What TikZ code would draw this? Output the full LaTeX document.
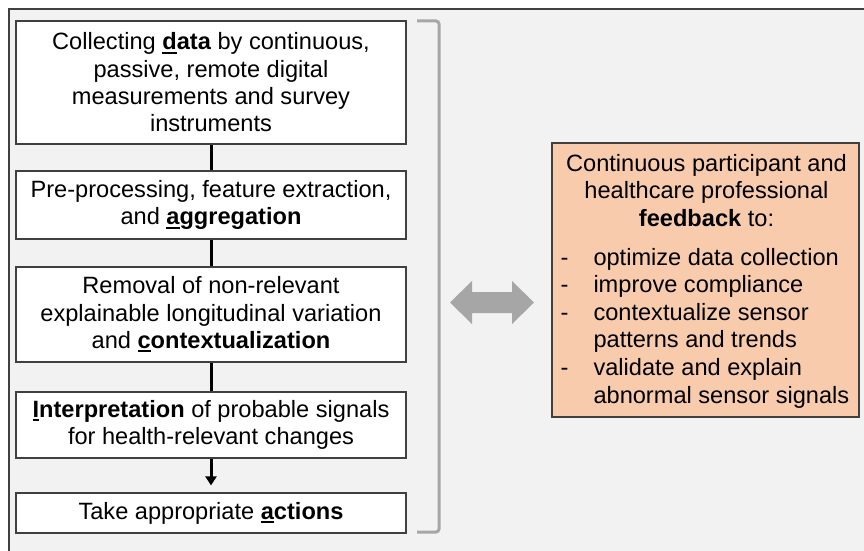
\documentclass[tikz,border=0pt]{standalone}
\usepackage{fontspec}
\setmainfont{Liberation Sans}
\usetikzlibrary{arrows.meta}

% bold letter with a thick underline beneath it
\newcommand{\keyletter}[1]{\setbox0\hbox{#1}\rlap{\rule[-3.8pt]{\wd0}{2pt}}\box0}

\definecolor{panelgray}{HTML}{F2F2F2}
\definecolor{edgegray}{HTML}{404040}
\definecolor{bracegray}{HTML}{A6A6A6}
\definecolor{feedbackfill}{HTML}{F8CBAD}

\tikzset{
  panel/.style={draw=edgegray, line width=1.4pt, fill=panelgray},
  stepbox/.style={draw=edgegray, line width=1.2pt, fill=white, align=center,
    minimum width=390pt, inner sep=0pt,
    font=\fontsize{23.6}{27.3}\selectfont},
  feedbox/.style={draw=edgegray, line width=1.2pt, fill=feedbackfill,
    minimum width=307pt, minimum height=274pt, inner sep=0pt},
  link/.style={line width=3pt, black},
  brace/.style={draw=bracegray, line width=3pt, rounded corners=3pt},
  twoway/.style={fill=bracegray, draw=none}
}

\begin{document}
\begin{tikzpicture}[x=1pt, y=-1pt]
  \useasboundingbox (0,0) rectangle (864,551);
  \clip (0,0) rectangle (864,551);

  % background panel, running off the right and bottom edges
  \draw[panel] (9,9) rectangle (880,570);

  % pipeline steps
  \node[stepbox, minimum height=123pt] (collect) at (211,82.5)
    {Collecting \textbf{\keyletter{d}ata} by continuous,\\
     passive, remote digital\\
     measurements and survey\\
     instruments};
  \node[stepbox, minimum height=68pt] (aggregate) at (211,205)
    {Pre-processing, feature extraction,\\
     and \textbf{\keyletter{a}ggregation}};
  \node[stepbox, minimum height=95pt] (context) at (211,314.5)
    {Removal of non-relevant\\
     explainable longitudinal variation\\
     and \textbf{\keyletter{c}ontextualization}};
  \node[stepbox, minimum height=66pt] (interpret) at (211,425)
    {\textbf{\keyletter{I}nterpretation} of probable signals\\
     for health-relevant changes};
  \node[stepbox, minimum height=40pt] (act) at (211,513)
    {Take appropriate \textbf{\keyletter{a}ctions}};

  \draw[link] (collect) -- (aggregate);
  \draw[link] (aggregate) -- (context);
  \draw[link] (context) -- (interpret);
  \draw[link, -{Triangle[length=9pt, width=11pt]}, shorten >=7pt] (interpret) -- (act);

  % bracket grouping the steps
  \draw[brace] (417,21) -- (439,21) -- (439,532) -- (417,532);

  % two-way block arrow towards the feedback box
  \fill[twoway] (450,302.5) -- (472,281) -- (472,292) -- (512,292) -- (512,281)
    -- (534,302.5) -- (512,324) -- (512,313) -- (472,313) -- (472,324) -- cycle;

  \node[feedbox] (feedback) at (705.5,280) {};
  \node[align=left, inner sep=0pt, font=\fontsize{23.6}{27.6}\selectfont]
    (feedtext) at ([xshift=1pt,yshift=-1pt]feedback.center)
    {\makebox[292pt]{Continuous participant and}\\
     \makebox[292pt]{healthcare professional}\\
     \makebox[292pt]{\textbf{feedback} to:}\\[11pt]
     \makebox[33pt][l]{-}optimize data collection\\
     \makebox[33pt][l]{-}improve compliance\\
     \makebox[33pt][l]{-}contextualize sensor\\
     \hspace*{33pt}patterns and trends\\
     \makebox[33pt][l]{-}validate and explain\\
     \hspace*{33pt}abnormal sensor signals};
\end{tikzpicture}
\end{document}
